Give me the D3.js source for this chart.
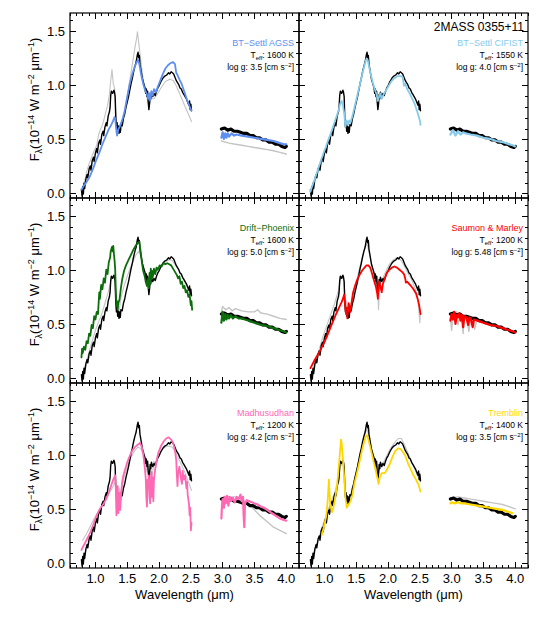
<!DOCTYPE html>
<head>
<meta charset="utf-8">
<script src="https://d3js.org/d3.v7.min.js"></script>
<style>
body { margin:0; background:#fff; }
text { font-family: "Liberation Sans", Arial, Helvetica, sans-serif; fill:#000; }
.frame { fill:none; stroke:#000; stroke-width:1.2px; }
.tick { stroke:#000; stroke-width:1px; shape-rendering:crispEdges; }
.spec { fill:none; stroke-linejoin:round; stroke-linecap:round; }
</style>
</head>
<body>
<svg id="chart" width="538" height="619"></svg>
<script>

// observed spectrum of 2MASS 0355+11 (same in every panel)
var obsNir = [[0.78,0.04],[0.79,-0.02],[0.80,0.07],[0.81,0.0],[0.82,0.10],[0.83,0.05],[0.85,0.14],[0.87,0.18],[0.88,0.15],[0.90,0.23],[0.92,0.26],[0.93,0.22],[0.95,0.31],[0.97,0.34],[0.98,0.30],[1.00,0.38],[1.02,0.42],[1.03,0.38],[1.05,0.47],[1.07,0.50],[1.08,0.46],[1.10,0.55],[1.12,0.58],[1.13,0.54],[1.15,0.62],[1.17,0.66],[1.18,0.63],[1.20,0.72],[1.22,0.76],[1.23,0.80],[1.24,0.91],[1.25,0.95],[1.27,0.93],[1.29,0.96],[1.30,0.94],[1.31,0.90],[1.32,0.70],[1.33,0.62],[1.34,0.66],[1.35,0.58],[1.36,0.63],[1.37,0.56],[1.38,0.62],[1.39,0.57],[1.40,0.64],[1.42,0.63],[1.44,0.70],[1.46,0.74],[1.48,0.80],[1.50,0.85],[1.52,0.90],[1.54,0.96],[1.56,1.02],[1.58,1.07],[1.60,1.13],[1.62,1.18],[1.64,1.22],[1.66,1.29],[1.67,1.31],[1.68,1.26],[1.69,1.28],[1.70,1.20],[1.72,1.13],[1.74,1.06],[1.76,1.02],[1.78,0.98],[1.79,0.93],[1.80,0.97],[1.81,0.90],[1.82,0.95],[1.83,0.85],[1.84,0.78],[1.85,0.83],[1.86,0.92],[1.87,0.88],[1.88,0.94],[1.90,0.90],[1.92,0.93],[1.94,0.91],[1.96,0.95],[1.98,0.98],[2.00,1.00],[2.03,1.04],[2.06,1.07],[2.09,1.09],[2.12,1.10],[2.15,1.12],[2.17,1.11],[2.19,1.13],[2.21,1.12],[2.23,1.11],[2.25,1.08],[2.27,1.05],[2.29,1.03],[2.31,1.01],[2.33,0.98],[2.35,0.97],[2.37,0.94],[2.39,0.92],[2.41,0.90],[2.43,0.88],[2.45,0.85],[2.47,0.82],[2.48,0.86],[2.49,0.78],[2.50,0.83],[2.51,0.77]];
var obsL = [[2.98,0.60],[3.03,0.61],[3.08,0.59],[3.13,0.60],[3.18,0.58],[3.23,0.58],[3.28,0.57],[3.33,0.56],[3.38,0.56],[3.43,0.54],[3.48,0.54],[3.53,0.52],[3.58,0.52],[3.63,0.50],[3.68,0.50],[3.73,0.48],[3.78,0.48],[3.83,0.46],[3.88,0.46],[3.93,0.44],[3.98,0.43],[4.00,0.44]];

// BT-Settl AGSS
var agssNir = [[0.78,0.04],[0.82,0.08],[0.86,0.11],[0.91,0.16],[0.96,0.23],[1.01,0.31],[1.06,0.38],[1.11,0.46],[1.16,0.53],[1.21,0.60],[1.25,0.64],[1.28,0.68],[1.30,0.71],[1.31,0.70],[1.33,0.58],[1.34,0.54],[1.36,0.60],[1.38,0.62],[1.40,0.65],[1.43,0.70],[1.46,0.77],[1.50,0.90],[1.54,1.02],[1.58,1.11],[1.62,1.18],[1.65,1.22],[1.67,1.24],[1.69,1.20],[1.72,1.10],[1.75,1.02],[1.78,0.96],[1.81,0.92],[1.83,0.88],[1.85,0.93],[1.86,0.86],[1.88,0.95],[1.90,0.91],[1.92,0.97],[1.95,0.94],[1.98,0.99],[2.02,1.05],[2.06,1.11],[2.10,1.16],[2.14,1.19],[2.18,1.21],[2.22,1.22],[2.25,1.20],[2.27,1.12],[2.29,1.10],[2.32,1.06],[2.36,1.01],[2.40,0.94],[2.44,0.87],[2.48,0.81],[2.51,0.77]];
var agssL = [[2.98,0.52],[3.00,0.57],[3.02,0.51],[3.04,0.56],[3.06,0.52],[3.08,0.56],[3.10,0.53],[3.14,0.56],[3.18,0.54],[3.22,0.55],[3.30,0.54],[3.40,0.53],[3.50,0.52],[3.60,0.51],[3.70,0.50],[3.80,0.49],[3.90,0.47],[3.96,0.46],[4.00,0.46]];
var agssGrayNir = [[0.80,0.05],[0.83,0.12],[0.86,0.20],[0.90,0.28],[0.94,0.34],[0.98,0.40],[1.02,0.45],[1.05,0.55],[1.08,0.60],[1.10,0.62],[1.13,0.68],[1.16,0.75],[1.19,0.82],[1.22,0.92],[1.24,1.05],[1.26,1.15],[1.28,1.02],[1.30,0.98],[1.32,0.75],[1.34,0.62],[1.36,0.58],[1.38,0.62],[1.40,0.58],[1.43,0.66],[1.46,0.76],[1.50,0.90],[1.54,1.05],[1.58,1.20],[1.62,1.35],[1.65,1.45],[1.66,1.50],[1.68,1.40],[1.70,1.30],[1.73,1.15],[1.76,1.02],[1.80,0.93],[1.84,0.80],[1.87,0.88],[1.92,0.88],[1.97,0.92],[2.03,0.98],[2.10,1.04],[2.17,1.06],[2.22,1.05],[2.27,1.00],[2.33,0.92],[2.40,0.82],[2.46,0.74],[2.51,0.67]];
var agssGrayL = [[2.98,0.49],[3.10,0.47],[3.20,0.46],[3.30,0.45],[3.40,0.44],[3.50,0.43],[3.60,0.42],[3.70,0.41],[3.80,0.40],[3.90,0.385],[4.00,0.37]];

// BT-Settl CIFIST
var cifistNir = [[0.78,0.02],[0.80,0.06],[0.83,0.11],[0.86,0.16],[0.90,0.23],[0.94,0.30],[0.98,0.37],[1.02,0.43],[1.06,0.50],[1.10,0.56],[1.14,0.63],[1.18,0.70],[1.22,0.77],[1.25,0.84],[1.27,0.86],[1.29,0.82],[1.31,0.75],[1.33,0.62],[1.35,0.68],[1.37,0.64],[1.39,0.68],[1.41,0.66],[1.44,0.72],[1.48,0.82],[1.52,0.92],[1.56,1.02],[1.60,1.12],[1.63,1.19],[1.66,1.25],[1.68,1.24],[1.70,1.18],[1.73,1.10],[1.76,1.03],[1.79,0.97],[1.82,0.92],[1.84,0.86],[1.86,0.90],[1.88,0.93],[1.90,0.88],[1.93,0.92],[1.96,0.95],[2.00,0.99],[2.05,1.04],[2.10,1.07],[2.15,1.09],[2.20,1.09],[2.23,1.08],[2.25,1.00],[2.27,1.02],[2.30,0.97],[2.34,0.93],[2.38,0.88],[2.42,0.83],[2.46,0.76],[2.50,0.68],[2.51,0.64]];
var cifistL = [[2.98,0.55],[3.02,0.59],[3.06,0.54],[3.10,0.58],[3.14,0.55],[3.18,0.57],[3.22,0.56],[3.30,0.55],[3.40,0.54],[3.50,0.52],[3.60,0.51],[3.70,0.49],[3.80,0.48],[3.90,0.46],[3.96,0.45],[4.00,0.44]];

// Drift-Phoenix
var driftNir = [[0.78,0.20],[0.79,0.28],[0.80,0.24],[0.82,0.30],[0.84,0.27],[0.86,0.35],[0.88,0.33],[0.90,0.42],[0.92,0.40],[0.94,0.50],[0.96,0.47],[0.98,0.58],[1.00,0.55],[1.02,0.62],[1.04,0.60],[1.06,0.80],[1.07,0.74],[1.09,0.87],[1.11,0.83],[1.13,0.93],[1.15,0.89],[1.17,1.01],[1.19,0.97],[1.21,1.08],[1.23,1.12],[1.24,1.18],[1.26,1.22],[1.27,1.18],[1.28,1.23],[1.29,1.16],[1.30,1.10],[1.31,1.02],[1.32,0.82],[1.33,0.68],[1.34,0.72],[1.35,0.64],[1.36,0.70],[1.38,0.74],[1.40,0.84],[1.42,0.92],[1.45,1.00],[1.48,1.05],[1.52,1.10],[1.56,1.15],[1.60,1.20],[1.64,1.24],[1.67,1.26],[1.69,1.27],[1.71,1.18],[1.73,1.08],[1.75,1.00],[1.77,0.96],[1.79,0.90],[1.81,0.86],[1.83,0.93],[1.84,0.84],[1.85,0.98],[1.86,0.88],[1.87,1.02],[1.88,0.92],[1.89,1.00],[1.90,0.94],[1.92,1.02],[1.94,0.97],[1.96,1.03],[1.98,1.01],[2.01,1.05],[2.04,1.04],[2.07,1.07],[2.10,1.06],[2.13,1.07],[2.16,1.06],[2.19,1.05],[2.22,1.02],[2.25,0.99],[2.28,0.96],[2.30,0.93],[2.32,0.95],[2.34,0.88],[2.36,0.90],[2.38,0.84],[2.40,0.86],[2.42,0.80],[2.44,0.82],[2.46,0.76],[2.48,0.78],[2.50,0.68],[2.51,0.72],[2.52,0.64]];
var driftL = [[2.98,0.52],[3.00,0.62],[3.02,0.54],[3.04,0.60],[3.06,0.55],[3.08,0.59],[3.10,0.56],[3.13,0.59],[3.16,0.56],[3.20,0.58],[3.25,0.56],[3.30,0.56],[3.35,0.55],[3.40,0.54],[3.45,0.53],[3.50,0.52],[3.60,0.50],[3.70,0.49],[3.80,0.47],[3.90,0.45],[3.96,0.44],[4.00,0.43]];
var driftGrayNir = [[0.80,0.05],[0.85,0.15],[0.90,0.25],[0.95,0.35],[1.00,0.45],[1.05,0.53],[1.10,0.60],[1.15,0.70],[1.20,0.80],[1.24,0.90],[1.27,0.95],[1.29,0.96],[1.31,0.90],[1.33,0.70],[1.36,0.58],[1.38,0.66],[1.40,0.75],[1.45,0.86],[1.50,0.95],[1.55,1.03],[1.60,1.10],[1.64,1.15],[1.68,1.18],[1.71,1.14],[1.75,1.05],[1.80,0.95],[1.84,0.80],[1.87,0.90],[1.90,0.95],[1.95,0.99],[2.00,1.03],[2.05,1.06],[2.10,1.08],[2.15,1.10],[2.20,1.10],[2.25,1.06],[2.30,1.02],[2.35,0.96],[2.40,0.90],[2.45,0.84],[2.51,0.78]];
var driftGrayL = [[2.98,0.62],[3.00,0.67],[3.05,0.64],[3.10,0.66],[3.15,0.63],[3.20,0.65],[3.30,0.63],[3.40,0.62],[3.50,0.62],[3.55,0.64],[3.60,0.61],[3.70,0.60],[3.80,0.58],[3.90,0.56],[4.00,0.55]];

// Saumon & Marley
var smNir = [[0.78,0.10],[0.85,0.18],[0.93,0.26],[1.00,0.34],[1.05,0.41],[1.09,0.47],[1.14,0.54],[1.19,0.61],[1.23,0.66],[1.27,0.71],[1.29,0.74],[1.31,0.78],[1.32,0.72],[1.34,0.60],[1.35,0.66],[1.36,0.56],[1.38,0.70],[1.40,0.66],[1.41,0.62],[1.43,0.72],[1.45,0.80],[1.48,0.86],[1.51,0.91],[1.55,0.96],[1.59,1.00],[1.63,1.03],[1.66,1.05],[1.69,1.05],[1.72,1.03],[1.75,0.97],[1.77,0.93],[1.79,0.89],[1.81,0.85],[1.83,0.79],[1.84,0.74],[1.85,0.84],[1.86,0.90],[1.88,0.86],[1.90,0.80],[1.92,0.88],[1.95,0.93],[1.98,0.98],[2.02,1.01],[2.06,1.03],[2.10,1.04],[2.14,1.03],[2.18,1.01],[2.22,0.99],[2.25,0.97],[2.27,0.93],[2.28,0.89],[2.30,0.90],[2.33,0.88],[2.36,0.86],[2.40,0.83],[2.44,0.79],[2.47,0.73],[2.49,0.68],[2.51,0.60]];
var smL = [[2.98,0.54],[3.00,0.60],[3.02,0.55],[3.04,0.62],[3.06,0.51],[3.08,0.59],[3.10,0.57],[3.12,0.61],[3.14,0.54],[3.16,0.59],[3.18,0.48],[3.20,0.58],[3.23,0.57],[3.26,0.50],[3.28,0.57],[3.30,0.56],[3.33,0.48],[3.35,0.55],[3.40,0.54],[3.45,0.53],[3.50,0.52],[3.60,0.50],[3.70,0.49],[3.80,0.47],[3.90,0.45],[3.96,0.44],[4.00,0.43]];
var smGrayNir = [[0.80,0.05],[0.86,0.16],[0.92,0.28],[0.98,0.40],[1.04,0.50],[1.10,0.60],[1.16,0.70],[1.22,0.82],[1.25,0.92],[1.28,0.96],[1.31,0.90],[1.33,0.66],[1.35,0.72],[1.37,0.56],[1.39,0.64],[1.42,0.70],[1.46,0.80],[1.50,0.90],[1.55,1.02],[1.60,1.14],[1.64,1.22],[1.67,1.25],[1.70,1.18],[1.74,1.06],[1.78,0.98],[1.81,0.88],[1.83,0.95],[1.85,0.64],[1.87,0.90],[1.90,0.82],[1.93,0.95],[1.97,1.00],[2.02,1.06],[2.08,1.10],[2.14,1.12],[2.20,1.10],[2.26,1.04],[2.31,0.98],[2.36,0.93],[2.41,0.86],[2.46,0.78],[2.48,0.66],[2.50,0.52],[2.51,0.62]];
var smGrayL = [[2.98,0.56],[3.00,0.45],[3.02,0.60],[3.05,0.55],[3.08,0.62],[3.10,0.50],[3.13,0.60],[3.16,0.58],[3.18,0.42],[3.20,0.58],[3.24,0.56],[3.27,0.44],[3.30,0.57],[3.34,0.55],[3.36,0.46],[3.40,0.55],[3.45,0.53],[3.50,0.52],[3.55,0.51],[3.60,0.50],[3.70,0.49],[3.80,0.47],[3.90,0.45],[4.00,0.43]];

// Madhusudhan
var madNir = [[0.78,0.13],[0.85,0.21],[0.91,0.28],[0.97,0.37],[1.02,0.45],[1.07,0.51],[1.12,0.55],[1.17,0.60],[1.21,0.66],[1.25,0.73],[1.28,0.78],[1.31,0.82],[1.32,0.70],[1.33,0.45],[1.34,0.62],[1.35,0.72],[1.36,0.47],[1.37,0.55],[1.38,0.66],[1.39,0.50],[1.40,0.62],[1.42,0.76],[1.44,0.82],[1.47,0.88],[1.50,0.94],[1.54,1.00],[1.58,1.05],[1.62,1.08],[1.66,1.10],[1.70,1.12],[1.73,1.08],[1.75,1.02],[1.77,0.92],[1.79,0.80],[1.80,0.62],[1.81,0.53],[1.82,0.78],[1.83,0.70],[1.84,0.82],[1.85,0.62],[1.86,0.56],[1.87,0.74],[1.88,0.85],[1.89,0.62],[1.90,0.80],[1.91,0.58],[1.92,0.78],[1.94,0.88],[1.96,0.95],[1.99,1.03],[2.03,1.09],[2.07,1.13],[2.11,1.16],[2.15,1.17],[2.19,1.15],[2.22,1.12],[2.25,1.05],[2.27,0.96],[2.28,0.82],[2.29,0.72],[2.30,0.84],[2.32,0.90],[2.34,0.80],[2.36,0.74],[2.37,0.86],[2.39,0.78],[2.41,0.82],[2.43,0.70],[2.44,0.76],[2.45,0.64],[2.47,0.56],[2.48,0.45],[2.49,0.52],[2.50,0.31],[2.51,0.38]];
var madL = [[2.98,0.42],[2.99,0.55],[3.00,0.60],[3.02,0.52],[3.03,0.62],[3.05,0.56],[3.07,0.63],[3.09,0.54],[3.11,0.62],[3.13,0.58],[3.16,0.61],[3.19,0.57],[3.22,0.62],[3.25,0.60],[3.28,0.64],[3.30,0.58],[3.32,0.62],[3.33,0.45],[3.34,0.34],[3.35,0.56],[3.38,0.59],[3.42,0.58],[3.46,0.57],[3.50,0.56],[3.55,0.55],[3.60,0.53],[3.65,0.52],[3.70,0.50],[3.75,0.48],[3.80,0.46],[3.85,0.44],[3.90,0.42],[3.95,0.41],[4.00,0.40]];
var madGrayNir = [[0.80,0.22],[0.86,0.28],[0.92,0.35],[0.98,0.42],[1.05,0.49],[1.12,0.55],[1.18,0.62],[1.24,0.68],[1.28,0.72],[1.31,0.76],[1.33,0.66],[1.35,0.62],[1.38,0.70],[1.40,0.64],[1.44,0.78],[1.50,0.90],[1.56,0.99],[1.62,1.05],[1.67,1.08],[1.71,1.07],[1.75,1.02],[1.78,0.95],[1.81,0.85],[1.83,0.92],[1.85,0.76],[1.87,0.88],[1.89,0.80],[1.92,0.95],[1.95,0.90],[1.98,0.98],[2.03,1.04],[2.09,1.08],[2.15,1.09],[2.21,1.08],[2.26,1.03],[2.31,0.97],[2.36,0.91],[2.41,0.84],[2.46,0.76],[2.51,0.68]];
var madGrayL = [[2.98,0.60],[3.05,0.62],[3.10,0.62],[3.20,0.62],[3.30,0.60],[3.40,0.56],[3.50,0.50],[3.60,0.44],[3.70,0.39],[3.80,0.34],[3.90,0.31],[4.00,0.28]];

// Tremblin
var tremNir = [[0.96,0.27],[0.99,0.34],[1.01,0.39],[1.03,0.45],[1.05,0.58],[1.06,0.68],[1.07,0.78],[1.08,0.66],[1.09,0.55],[1.11,0.50],[1.12,0.48],[1.14,0.52],[1.17,0.61],[1.20,0.74],[1.22,0.86],[1.24,1.00],[1.26,1.15],[1.27,1.12],[1.29,0.98],[1.31,0.80],[1.33,0.61],[1.35,0.52],[1.37,0.54],[1.39,0.56],[1.41,0.58],[1.44,0.64],[1.47,0.74],[1.51,0.84],[1.55,0.94],[1.59,1.05],[1.62,1.12],[1.65,1.18],[1.67,1.19],[1.69,1.15],[1.72,1.08],[1.76,0.98],[1.80,0.88],[1.83,0.80],[1.85,0.74],[1.87,0.80],[1.90,0.84],[1.95,0.84],[1.99,0.88],[2.03,0.93],[2.07,0.99],[2.11,1.04],[2.16,1.07],[2.20,1.06],[2.24,1.03],[2.27,1.00],[2.32,0.92],[2.36,0.87],[2.40,0.82],[2.44,0.78],[2.48,0.73],[2.51,0.67]];
var tremL = [[2.98,0.56],[3.00,0.57],[3.05,0.56],[3.10,0.57],[3.15,0.56],[3.20,0.56],[3.30,0.55],[3.40,0.54],[3.50,0.53],[3.60,0.52],[3.70,0.51],[3.80,0.50],[3.90,0.48],[3.95,0.47]];
var tremGrayNir = [[0.80,0.05],[0.86,0.15],[0.92,0.26],[0.98,0.37],[1.04,0.47],[1.10,0.57],[1.16,0.66],[1.22,0.78],[1.25,0.90],[1.28,0.93],[1.31,0.88],[1.33,0.64],[1.36,0.60],[1.39,0.60],[1.43,0.68],[1.48,0.80],[1.53,0.93],[1.58,1.06],[1.63,1.19],[1.67,1.25],[1.70,1.18],[1.74,1.06],[1.78,0.98],[1.82,0.92],[1.85,0.84],[1.88,0.92],[1.93,0.94],[1.98,1.00],[2.04,1.07],[2.10,1.12],[2.16,1.16],[2.21,1.16],[2.26,1.10],[2.31,1.03],[2.36,0.96],[2.41,0.89],[2.46,0.82],[2.51,0.76]];
var tremGrayL = [[2.98,0.61],[3.10,0.62],[3.20,0.61],[3.30,0.60],[3.40,0.59],[3.50,0.58],[3.60,0.57],[3.70,0.56],[3.80,0.55],[3.90,0.53],[4.00,0.51]];

var modelNames = ["BT\u2212Settl AGSS", "BT\u2212Settl CIFIST", "Drift\u2212Phoenix", "Saumon & Marley", "Madhusudhan", "Tremblin"];
var modelColors = ["#5e8ff0", "#86cbec", "#0b6e0b", "#ff0000", "#ff69b4", "#ffd700"];
var teffs = ["1600", "1550", "1600", "1200", "1200", "1400"];
var loggs = ["3.5", "4.0", "5.0", "5.48", "4.2", "3.5"];
var xTickLabels = ["1.0", "1.5", "2.0", "2.5", "3.0", "3.5", "4.0"];
var yTickLabels = ["0.0", "0.5", "1.0", "1.5"];

var panels = [
	{nir: agssNir, l: agssL, gNir: agssGrayNir, gL: agssGrayL},
	{nir: cifistNir, l: cifistL, gNir: null, gL: null},
	{nir: driftNir, l: driftL, gNir: driftGrayNir, gL: driftGrayL},
	{nir: smNir, l: smL, gNir: smGrayNir, gL: smGrayL},
	{nir: madNir, l: madL, gNir: madGrayNir, gL: madGrayL},
	{nir: tremNir, l: tremL, gNir: tremGrayNir, gL: tremGrayL}
];

var svg = d3.select("#chart"),
	colX = [70, 299],
	rowY = [13, 198, 383],
	pw = 229,
	ph = 185;

var x = d3.scaleLinear().domain([0.6, 4.2]).range([0, pw]);
var y = d3.scaleLinear().domain([-0.037, 1.673]).range([ph, 0]);

var line = d3.line()
	.x(d => x(d[0]))
	.y(d => y(d[1]));

var xMinor = d3.range(6, 43).map(d => d / 10),
	yMinor = d3.range(0, 17).map(d => d / 10);

panels.forEach(function(p, i) {
	var col = i % 2, row = Math.floor(i / 2);
	var g = svg.append("g")
		.attr("transform", "translate(" + colX[col] + "," + rowY[row] + ")");

	g.append("clipPath").attr("id", "clip" + i)
		.append("rect").attr("width", pw).attr("height", ph);

	var plot = g.append("g").attr("clip-path", "url(#clip" + i + ")");

	if (p.gNir) {
		plot.append("path").attr("class", "spec").attr("d", line(p.gNir))
			.style("stroke", "#c4c4c4").style("stroke-width", 1.1);
		plot.append("path").attr("class", "spec").attr("d", line(p.gL))
			.style("stroke", "#c4c4c4").style("stroke-width", 1.4);
	}
	plot.append("path").attr("class", "spec").attr("d", line(obsNir))
		.style("stroke", "#000").style("stroke-width", 1.4);
	plot.append("path").attr("class", "spec").attr("d", line(obsL))
		.style("stroke", "#000").style("stroke-width", 3.2);
	plot.append("path").attr("class", "spec").attr("d", line(p.nir))
		.style("stroke", modelColors[i]).style("stroke-width", 1.8);
	plot.append("path").attr("class", "spec").attr("d", line(p.l))
		.style("stroke", modelColors[i]).style("stroke-width", 2.2);

	// ticks on all four sides, pointing inward
	xMinor.forEach(function(v) {
		var major = Math.abs(v * 2 - Math.round(v * 2)) < 1e-6;
		var len = major ? 6 : 3;
		g.append("line").attr("class", "tick")
			.attr("x1", x(v)).attr("x2", x(v)).attr("y1", ph).attr("y2", ph - len);
		g.append("line").attr("class", "tick")
			.attr("x1", x(v)).attr("x2", x(v)).attr("y1", 0).attr("y2", len);
	});
	yMinor.forEach(function(v) {
		var major = Math.abs(v * 2 - Math.round(v * 2)) < 1e-6;
		var len = major ? 6 : 3;
		g.append("line").attr("class", "tick")
			.attr("y1", y(v)).attr("y2", y(v)).attr("x1", 0).attr("x2", len);
		g.append("line").attr("class", "tick")
			.attr("y1", y(v)).attr("y2", y(v)).attr("x1", pw).attr("x2", pw - len);
	});

	g.append("rect").attr("class", "frame").attr("width", pw).attr("height", ph);

	if (col == 0) {
		yTickLabels.forEach(function(t) {
			g.append("text")
				.attr("x", -5).attr("y", y(+t) + 4.5)
				.attr("text-anchor", "end")
				.style("font-size", "13px")
				.text(t);
		});
		var yl = g.append("text")
			.attr("transform", "translate(-31," + (ph / 2 - 6) + ") rotate(-90)")
			.attr("text-anchor", "middle")
			.style("font-size", "13px");
		yl.append("tspan").text("F");
		yl.append("tspan").attr("dy", 3).style("font-size", "9px").text("\u03bb");
		yl.append("tspan").attr("dy", -3).text("(10");
		yl.append("tspan").attr("dy", -5).style("font-size", "9px").text("\u221214");
		yl.append("tspan").attr("dy", 5).text(" W m");
		yl.append("tspan").attr("dy", -5).style("font-size", "9px").text("\u22122");
		yl.append("tspan").attr("dy", 5).text(" \u03bcm");
		yl.append("tspan").attr("dy", -5).style("font-size", "9px").text("\u22121");
		yl.append("tspan").attr("dy", 5).text(")");
	}

	if (row == 2) {
		xTickLabels.forEach(function(t) {
			g.append("text")
				.attr("x", x(+t)).attr("y", ph + 15)
				.attr("text-anchor", "middle")
				.style("font-size", "13px")
				.text(t);
		});
		g.append("text")
			.attr("x", pw / 2).attr("y", ph + 31)
			.attr("text-anchor", "middle")
			.style("font-size", "13px")
			.text("Wavelength (\u03bcm)");
	}

	if (i == 1) {
		g.append("text")
			.attr("x", pw - 4).attr("y", 18)
			.attr("text-anchor", "end")
			.style("font-size", "12px")
			.text("2MASS 0355+11");
	}

	g.append("text")
		.attr("x", pw - 5).attr("y", 33)
		.attr("text-anchor", "end")
		.style("font-size", "9px")
		.style("fill", modelColors[i])
		.text(modelNames[i]);

	var tl = g.append("text")
		.attr("x", pw - 5).attr("y", 45)
		.attr("text-anchor", "end")
		.style("font-size", "8.5px");
	tl.append("tspan").text("T");
	tl.append("tspan").attr("dy", 2).style("font-size", "6px").text("eff");
	tl.append("tspan").attr("dy", -2).text(": " + teffs[i] + " K");

	var lg = g.append("text")
		.attr("x", pw - 5).attr("y", 57)
		.attr("text-anchor", "end")
		.style("font-size", "8.5px");
	lg.append("tspan").text("log g: " + loggs[i] + " [cm s");
	lg.append("tspan").attr("dy", -3).style("font-size", "6px").text("\u22122");
	lg.append("tspan").attr("dy", 3).text("]");
});

</script>
</body>
